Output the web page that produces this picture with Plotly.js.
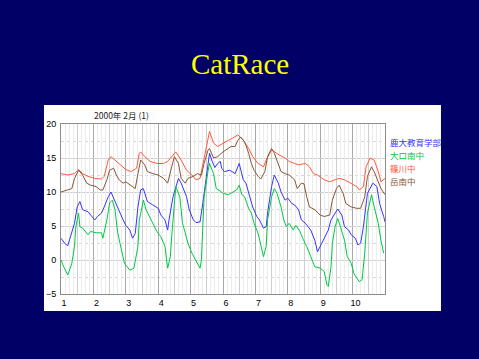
<!DOCTYPE html>
<html><head><meta charset="utf-8">
<script src="https://cdn.plot.ly/plotly-3.0.1.min.js"></script>
<style>html,body{margin:0;padding:0;background:#000066;}#chart{width:479px;height:359px;}</style>
</head><body><div id="chart"></div>
<script>
// Hours from start of 2000-02-01 and temperature readings (°C)
const seriesNames = ["鹿大教育学部", "大口南中", "篠川中", "岳南中"];
const seriesColors = ["#3535ff", "#00c846", "#ff5a3c", "#8a5536"];
const dayTicks = [1,2,3,4,5,6,7,8,9,10];
const dayTickText = ["1","2","3","4","5","6","7","8","9","10"];

const blueHours = [0,3,5,8,10,12,14,16,20,22,25,27,30,32,35,37,40,42,46,48,51,53,55,57,59,61,64,68,72,74,77,79,80,83,87,89,93,95,98,100,103,105,108,110,112,114,116,118,119,121,125,129,132,135,137,140,142,145,147,150,152,153,156,158,161,163,166,168,171,173,176,178,181,183,185,188,190,193,195,198,200,203,205,208,210,213,215,218,220,222,224,227,231,234,236,239,240];
const blueVals = [3.2,2.4,2.1,3.9,5.4,7.8,8.6,7.4,7.1,6.6,5.9,6.4,6.9,7.8,9.3,10,8.6,7.6,5.9,5.1,4.4,3.2,3.9,7.8,10.3,10.5,8.6,8.1,7.6,6.6,5.9,4.4,5.9,9.3,12,11.3,9.3,7.4,5.9,5.5,5.6,8.3,13.2,15.7,14.5,13.6,14.2,14.5,13.5,13,13.2,12.7,14.2,11.8,11.3,9.3,7.8,6.4,5.9,4.7,4.9,6.9,10.8,12.5,11.3,10,8.8,9.1,8.3,8.1,7.4,5.9,5.4,4.9,4.4,2.9,1.2,2.4,3.2,4.4,5.9,6.9,7.5,6.6,4.9,4.4,3.7,3.2,2.2,2.5,4.9,9.8,11.3,10.8,8.3,6.4,5.6];

const greenHours = [0,2,5,6,8,10,11,13,14,16,20,22,26,30,31,34,36,38,40,42,45,47,51,54,57,58,60,61,63,67,71,74,77,79,81,82,84,85,88,90,92,94,97,100,103,104,105,106,109,110,113,115,119,120,124,127,130,132,134,136,139,141,143,146,148,150,152,153,156,158,160,163,165,167,169,172,174,177,179,182,186,188,192,195,197,198,200,201,203,205,207,210,212,215,217,221,223,225,227,230,232,235,237,239];
const greenVals = [0,-1,-2.2,-1.7,-0.5,2,4.9,6.9,4.9,4.7,3.7,4.2,4,4,3.2,5.9,8.4,8.8,7.4,4,1,-0.5,-1.5,-1.2,2,5.9,7.8,8.8,7.4,5.9,4.2,3.4,2,-1.2,0.5,3.4,8.4,10.8,9.3,5.4,4,2.5,1,-0.2,-1.2,0,4.4,9.3,13.2,14.2,12.7,10.5,10,9.8,9.6,10,10.3,11,9.6,9.3,7.6,6.9,5.4,3.9,2,0.5,2,5.9,9.3,10.5,9.8,7.8,5.9,4.9,5.4,4.4,5.1,4.2,3.2,2,0,-1,-1.2,-1.7,-3.7,-3.9,-1,2.4,4.9,6.1,4.9,2.9,0.5,-0.5,-2,-3.2,-2.9,1,6.9,9.6,7.8,5.4,2.9,1];

const redHours = [0,5,10,13,16,20,25,30,32,35,37,41,45,48,52,56,58,59,62,66,71,76,79,82,85,89,93,97,100,103,105,108,110,113,116,120,124,127,131,135,139,142,146,150,152,156,158,162,166,169,173,176,181,184,187,190,195,199,203,206,210,215,219,221,224,226,229,232,235,237,240];
const redVals = [12.7,12.5,12.7,13.3,12.7,12.3,12,11.9,12.3,14.7,15.2,14.5,13.7,13.3,13,13.5,15.7,15.9,15.2,14.5,14.2,14.2,14.5,15.2,15.9,14.7,13.2,12.5,11.8,12,14.2,16.9,18.9,17.2,16.7,17.2,17.6,17.9,18.4,17.6,16.4,15.2,14.2,13.7,14.7,16.2,15.9,15.4,15,14.5,14.2,14,14.2,13.7,12.7,12.5,11.8,11.5,11.8,12,11.8,11.3,10.8,10.3,10.8,13.7,15,14.7,13,11.5,12];

const brownHours = [0,4,8,10,13,16,19,22,26,29,31,34,36,39,41,43,46,48,52,55,57,59,62,64,68,72,76,79,82,84,87,89,92,94,98,101,104,106,109,110,113,116,120,124,126,129,131,133,136,139,141,143,146,148,151,153,156,158,161,163,166,169,173,175,178,180,182,184,188,192,195,199,201,204,206,209,211,215,219,222,225,227,230,232,235,237,240];
const brownVals = [10,10.3,10.5,12,13.2,12.5,11.3,11,10.8,10.3,10.3,11.8,13.2,13.5,12.5,11.8,11.3,11.5,11,10.5,12.7,14.7,14,13,12.7,12.5,12,11.3,13.7,15.2,14.2,12,11.3,12,12.3,12.7,12.5,14.2,16.2,16.4,15,15.2,15.9,16.4,16.7,16.7,17.6,18.1,17.4,15.7,14.2,13.2,12.3,11.9,13,15.2,16.4,15.7,14.2,13,12.7,12.5,11.8,10.5,11.3,11.2,9.3,7.8,7.4,6.6,6.4,6.6,8.8,10.5,11,9.8,8.3,7.8,7.6,7.6,9.3,12.3,13.7,13,11.5,10.5,9.6];

const toDay = h => h.map(v => 1 + v / 24);
const allHours = [blueHours, greenHours, redHours, brownHours];
const allVals = [blueVals, greenVals, redVals, brownVals];

const traces = allHours.map((hrs, i) => ({
  type: "scatter", mode: "lines", name: seriesNames[i],
  x: toDay(hrs), y: allVals[i],
  line: {color: seriesColors[i], width: 1},
  showlegend: false, hoverinfo: "skip"
}));

// faint 3-hour grid positions (excluding half-day lines)
const fineGrid = [];
for (let k = 0; k <= 80; k++) { if (k % 4 !== 0) fineGrid.push(1 + k * 0.125); }

const fontJP = "Noto Sans CJK JP, Noto Sans, sans-serif";
const legendY = [0.894, 0.818, 0.741, 0.665];

const annotations = seriesNames.map((n, i) => ({
  text: n, xref: "paper", yref: "paper", x: 1.009, y: legendY[i],
  xanchor: "left", yanchor: "middle", showarrow: false,
  font: {family: fontJP, size: 8.5, color: seriesColors[i]}
}));
annotations.push({
  text: "2000年 2月 (1)", xref: "paper", yref: "paper", x: 0.095, y: 1.053,
  xanchor: "left", yanchor: "middle", showarrow: false,
  font: {family: fontJP, size: 8.5, color: "#222"}
});
// chart title drawn as an annotation so the serif face is applied
annotations.push({
  text: "CatRace", xref: "paper", yref: "paper", x: 0.553, y: 1.353,
  xanchor: "center", yanchor: "middle", showarrow: false,
  font: {family: "Liberation Serif", size: 29, color: "#ffff00"}
});

const layout = {
  width: 479, height: 359,
  paper_bgcolor: "#000066", plot_bgcolor: "#ffffff",
  font: {family: "Liberation Sans, Arial, sans-serif"},
  margin: {l: 61, r: 94, t: 124, b: 65, pad: 0},
  xaxis: {range: [1, 11], tickmode: "array", tickvals: dayTicks, ticktext: dayTickText,
          ticklabelshift: 3, ticks: "", showgrid: true, gridcolor: "#a8a8a8", gridwidth: 1,
          minor: {dtick: 0.5, tick0: 1, showgrid: true, gridcolor: "#cfcfcf", ticks: ""},
          zeroline: false, showline: true, linecolor: "#8c8c8c", mirror: true,
          tickfont: {size: 9, color: "#000"}, fixedrange: true},
  xaxis2: {overlaying: "x", range: [1, 11], tickmode: "array", tickvals: fineGrid, showticklabels: false,
           ticks: "", showgrid: true, gridcolor: "#ececec", zeroline: false, showline: false},
  yaxis: {range: [-5, 20], tickmode: "array", tickvals: [-5,0,5,10,15,20], ticks: "",
          showgrid: true, gridcolor: "#d0d0d0", zeroline: false, showline: true, linecolor: "#8c8c8c", mirror: true,
          minor: {dtick: 2.5, tick0: 0, showgrid: true, gridcolor: "#d8d8d8", griddash: "dot", ticks: ""},
          ticklabelstandoff: 2,
          tickfont: {size: 9, color: "#000"}, fixedrange: true},
  shapes: [{type: "rect", xref: "paper", yref: "paper", x0: -0.0525, x1: 1.1728, y0: -0.1, y1: 1.1118,
            fillcolor: "#ffffff", line: {width: 0}, layer: "below"}],
  annotations: annotations,
  showlegend: false
};

// dummy trace to activate xaxis2 grid
traces.unshift({type: "scatter", x: [1], y: [null], xaxis: "x2", yaxis: "y", showlegend: false, hoverinfo: "skip"});

Plotly.newPlot("chart", traces, layout, {displayModeBar: false, staticPlot: true});
</script></body></html>
